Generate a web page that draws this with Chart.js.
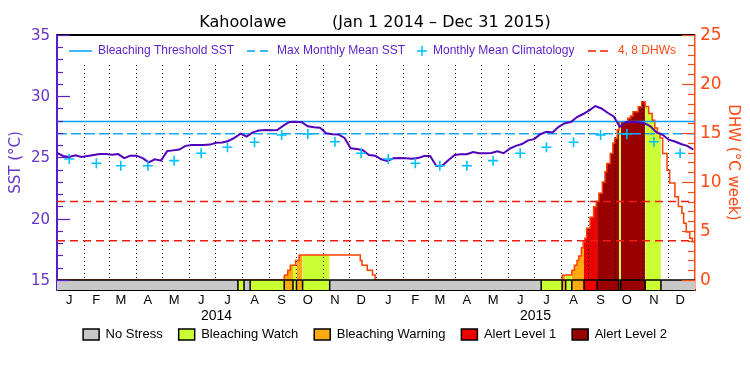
<!DOCTYPE html>
<html>
<head>
<meta charset="utf-8">
<script src="https://cdn.jsdelivr.net/npm/chart.js@4.4.0/dist/chart.umd.min.js"></script>
<style>
html, body { margin: 0; padding: 0; background: #fff; }
#wrap { width: 750px; height: 375px; }
</style>
</head>
<body>
<div id="wrap"><canvas id="chart" width="750" height="375"></canvas></div>
<script>
// Kahoolawe virtual station, Jan 1 2014 - Dec 31 2015
// x values are days since Jan 1 2014
var monthLabels = ['J', 'F', 'M', 'A', 'M', 'J', 'J', 'A', 'S', 'O', 'N', 'D'];
var yearLabels = ['2014', '2015'];

// monthly mean climatology (same for both years), plotted on the 15th
var climatology = [24.88, 24.53, 24.33, 24.33, 24.74, 25.34, 25.83, 26.24, 26.84, 26.92, 26.29, 25.34];
var maxMonthlyMean = 26.93;
var bleachingThreshold = 27.93;
var dhwLevels = [4, 8];

// SST, one reading per week from Jan 1 2014
var sstWeekly = [
    25.38, 25.12, 25.05, 25.17, 25.05, 25.12, 25.2, 25.28, 25.28, 25.22,
    25.28, 24.95, 25.15, 25.15, 24.95, 24.6, 24.85, 24.74, 25.52, 25.58,
    25.65, 25.95, 26.02, 26.02, 26.02, 26.05, 26.2, 26.22, 26.35, 26.6,
    26.95, 26.7, 27.05, 27.2, 27.25, 27.22, 27.24, 27.6, 27.9, 27.92,
    27.88, 27.55, 27.46, 27.42, 26.97, 26.9, 26.88, 26.6, 25.75, 25.7,
    25.6, 25.2, 25.15, 24.85, 24.72, 24.93, 24.95, 24.93, 24.9, 24.95,
    25.12, 25.12, 24.3, 24.35, 24.8, 25.2, 25.26, 25.26, 25.45, 25.34,
    25.34, 25.36, 25.5, 25.35, 25.72, 25.95, 26.1, 26.4, 26.5, 26.9,
    27.1, 27.05, 27.5, 27.8, 27.9, 28.3, 28.55, 28.85, 29.2, 29.0,
    28.65, 28.35, 27.5, 27.9, 27.9, 27.88, 27.8, 27.55, 27.05, 26.85,
    26.45, 26.3, 26.1, 25.95, 25.65
];

// degree heating weeks, a step holds from its day until the next one
var dhwDays = [0, 260, 264, 267, 273, 277, 347, 349, 355, 361, 364,
    578, 589, 592, 595, 597, 600, 602, 604, 606, 610,
    614, 617, 620, 624, 627, 629, 633, 636, 638, 641,
    643, 653, 656, 659, 665, 669, 673, 677, 681, 684,
    687, 690, 693, 698, 701, 707, 711, 715, 717, 720,
    724, 727];
var dhwValues = [0, 0.5, 1.0, 1.5, 2.0, 2.55, 2.0, 1.5, 1.0, 0.5, 0,
    0.5, 1.0, 1.5, 2.0, 2.45, 3.3, 3.9, 4.25, 5.27, 6.4,
    7.48, 8.0, 8.84, 10.0, 11.05, 11.9, 12.9, 13.95, 14.46, 15.3,
    16.15, 16.5, 16.73, 17.17, 17.69, 18.2, 17.7, 17.0, 16.3, 15.5,
    14.97, 14.5, 12.9, 11.2, 9.9, 8.5, 7.5, 6.8, 5.8, 4.9,
    4.25, 3.9];

// bleaching alert level, holds from its day until the next one
var stressDays = [0, 207, 214, 221, 260, 270, 274, 281, 312, 554, 578, 582, 589, 603, 618, 643, 645, 673, 691];
var stressLevels = [0, 1, 0, 1, 2, 1, 2, 1, 0, 1, 2, 1, 2, 3, 4, 1, 4, 1, 0];
var stressNames = ['No Stress', 'Bleaching Watch', 'Bleaching Warning', 'Alert Level 1', 'Alert Level 2'];
var stressColors = ['#c8c8c8', '#ccff33', '#ffaa11', '#ee0000', '#990000'];

var purple = '#5a1ec8';
var purpleText = '#6633cc';
var orange = '#ff4a14';
var sstMin = 14.18, dhwMin = -1.02;

function dayOf(y, m, d) {
    return Math.round((Date.UTC(y, m, d) - Date.UTC(2014, 0, 1)) / 864e5);
}
function stepAt(days, vals, d) {
    var v = vals[0];
    for (var i = 0; i < days.length; i++) if (days[i] <= d) v = vals[i];
    return v;
}

var monthStarts = [], monthMids = [];
yearLabels.forEach(function (y) {
    for (var m = 0; m < 12; m++) {
        monthStarts.push(dayOf(+y, m, 1));
        monthMids.push(dayOf(+y, m, 15));
    }
});
var lastDay = dayOf(2016, 0, 1);
var yearMids = yearLabels.map(function (y) { return (dayOf(+y, 0, 1) + dayOf(+y + 1, 0, 1)) / 2; });

var sstPoints = sstWeekly.map(function (v, i) { return { x: i * 7, y: v }; });
var climPoints = monthMids.map(function (d, i) { return { x: d, y: climatology[i % 12] }; });
var flat = function (v) { return [{ x: 0, y: v }, { x: lastDay, y: v }]; };

var dhwX = Array.from(new Set(dhwDays.concat(stressDays, [lastDay]))).sort(function (a, b) { return a - b; });
var dhwPoints = dhwX.map(function (d) { return { x: d, y: stepAt(dhwDays, dhwValues, d) }; });
var barPoints = stressDays.concat([lastDay]).map(function (d) { return { x: d, y: 0 }; });
var sepPoints = stressDays.slice(1).map(function (d) { return { x: d, y: dhwMin / 2 }; });

function stressAt(d) { return stepAt(stressDays, stressLevels, d); }

var DHW_INDEX = 8;

var decor = {
    id: 'decor',
    afterDatasetDraw: function (chart, args) {
        if (args.index !== DHW_INDEX) return;
        // dotted month lines
        var ctx = chart.ctx, x = chart.scales.x, ySST = chart.scales.ySST;
        var top = chart.chartArea.top + 30, bottom = ySST.getPixelForValue(15);
        ctx.save();
        ctx.strokeStyle = '#000';
        ctx.lineWidth = 1;
        ctx.setLineDash([1, 3]);
        monthStarts.forEach(function (d) {
            if (d === 0) return;
            var px = Math.round(x.getPixelForValue(d)) + 0.5;
            ctx.beginPath();
            ctx.moveTo(px, top);
            ctx.lineTo(px, bottom);
            ctx.stroke();
        });
        ctx.restore();
    },
    afterDraw: function (chart) {
        var ctx = chart.ctx, a = chart.chartArea;
        var x = chart.scales.x, ySST = chart.scales.ySST, yDHW = chart.scales.yDHW;
        ctx.save();
        // top frame
        ctx.strokeStyle = '#000';
        ctx.lineWidth = 2;
        ctx.beginPath();
        ctx.moveTo(a.left, a.top);
        ctx.lineTo(a.right, a.top);
        ctx.stroke();

        // inward tick marks
        ctx.lineWidth = 1.2;
        ctx.strokeStyle = purple;
        for (var v = 15; v <= 35; v++) {
            var py = Math.round(ySST.getPixelForValue(v)) + 0.5;
            ctx.beginPath();
            ctx.moveTo(a.left, py);
            ctx.lineTo(a.left + (v % 5 === 0 ? 13 : 6), py);
            ctx.stroke();
        }
        ctx.strokeStyle = orange;
        for (var w = 0; w <= 25; w++) {
            var qy = Math.round(yDHW.getPixelForValue(w)) + 0.5;
            ctx.beginPath();
            ctx.moveTo(a.right, qy);
            ctx.lineTo(a.right - (w % 5 === 0 ? 13 : 7), qy);
            ctx.stroke();
        }

        // year labels under the month letters
        ctx.fillStyle = '#000';
        ctx.font = '14px "Liberation Sans"';
        ctx.textAlign = 'center';
        ctx.textBaseline = 'middle';
        yearMids.forEach(function (d, i) {
            ctx.fillText(yearLabels[i], x.getPixelForValue(d), a.bottom + 26);
        });

        // legend inside the plot
        var ly = 51;
        ctx.font = '12px "Liberation Sans"';
        ctx.textAlign = 'left';
        function seg(x0, x1, color, dash) {
            ctx.strokeStyle = color;
            ctx.lineWidth = 1.5;
            ctx.setLineDash(dash);
            ctx.beginPath();
            ctx.moveTo(x0, ly);
            ctx.lineTo(x1, ly);
            ctx.stroke();
            ctx.setLineDash([]);
        }
        seg(69, 92, '#00a0ff', []);
        ctx.fillStyle = purple;
        ctx.fillText('Bleaching Threshold SST', 98, ly);
        seg(247, 268, '#00a0ff', [8, 5]);
        ctx.fillText('Max Monthly Mean SST', 277, ly);
        ctx.strokeStyle = '#00c0ff';
        ctx.lineWidth = 1.5;
        ctx.beginPath();
        ctx.moveTo(417, ly); ctx.lineTo(427, ly);
        ctx.moveTo(422, ly - 5); ctx.lineTo(422, ly + 5);
        ctx.stroke();
        ctx.fillText('Monthly Mean Climatology', 433, ly);
        seg(588, 608, '#ff1a00', [8, 4]);
        ctx.fillStyle = orange;
        ctx.fillText('4, 8 DHWs', 618, ly);
        ctx.restore();
    }
};

Chart.defaults.font.family = 'Liberation Sans';

new Chart(document.getElementById('chart').getContext('2d'), {
    type: 'line',
    data: {
        datasets: [
            {
                label: 'Monthly Mean Climatology', data: climPoints, yAxisID: 'ySST', order: 0,
                showLine: false, pointStyle: 'cross', pointRadius: 5, pointHoverRadius: 5,
                borderColor: '#00c0ff', borderWidth: 1.6
            },
            {
                label: 'SST', data: sstPoints, yAxisID: 'ySST', order: 1,
                borderColor: '#5200bb', borderWidth: 2, pointRadius: 0, tension: 0
            },
            {
                label: 'Bleaching Threshold SST', data: flat(bleachingThreshold), yAxisID: 'ySST', order: 2,
                borderColor: '#00a0ff', borderWidth: 1.5, pointRadius: 0
            },
            {
                label: 'Max Monthly Mean SST', data: flat(maxMonthlyMean), yAxisID: 'ySST', order: 3,
                borderColor: '#10a8f8', borderWidth: 1.5, borderDash: [10, 4], pointRadius: 0
            },
            {
                label: '4 DHW', data: flat(dhwLevels[0]), yAxisID: 'yDHW', order: 4,
                borderColor: '#f01a10', borderWidth: 1.5, borderDash: [8, 5], pointRadius: 0
            },
            {
                label: '8 DHW', data: flat(dhwLevels[1]), yAxisID: 'yDHW', order: 4,
                borderColor: '#f01a10', borderWidth: 1.5, borderDash: [8, 5], pointRadius: 0
            },
            {
                label: 'stress breaks', data: sepPoints, yAxisID: 'yDHW', order: 5,
                showLine: false, pointStyle: 'line', rotation: 90, pointRadius: 5, pointHoverRadius: 5,
                borderColor: '#000', borderWidth: 1.5
            },
            {
                label: 'stress', data: barPoints, yAxisID: 'yDHW', order: 6,
                stepped: 'before', borderColor: '#000', borderWidth: 1.5, pointRadius: 0,
                fill: 'start', backgroundColor: stressColors[0],
                segment: {
                    backgroundColor: function (c) { return stressColors[stressAt(c.p0.parsed.x)]; }
                }
            },
            {
                label: 'DHW', data: dhwPoints, yAxisID: 'yDHW', order: 7,
                stepped: 'before', borderColor: '#ff4000', borderWidth: 1.5, pointRadius: 0,
                fill: 'origin', backgroundColor: 'rgba(0,0,0,0)',
                segment: {
                    backgroundColor: function (c) {
                        var s = stressAt(c.p0.parsed.x);
                        return s === 0 ? 'rgba(0,0,0,0)' : stressColors[s];
                    }
                }
            }
        ]
    },
    options: {
        responsive: false,
        animation: false,
        devicePixelRatio: 1,
        layout: { padding: { left: 0, right: 0, top: 0, bottom: 24 } },
        plugins: {
            tooltip: { enabled: false },
            title: {
                display: true,
                text: 'Kahoolawe         (Jan 1 2014 \u2013 Dec 31 2015)',
                color: '#000',
                font: { family: 'DejaVu Sans', size: 16, weight: 'normal', lineHeight: 1.25 },
                padding: { top: 13, bottom: 2 }
            },
            legend: {
                position: 'bottom',
                onClick: function () {},
                labels: {
                    boxWidth: 16,
                    boxHeight: 11,
                    padding: 16,
                    color: '#000',
                    font: { family: 'Liberation Sans', size: 13 },
                    generateLabels: function () {
                        return stressNames.map(function (n, i) {
                            return { text: n, fillStyle: stressColors[i], strokeStyle: '#000', lineWidth: 1.5, hidden: false };
                        });
                    }
                }
            }
        },
        scales: {
            x: {
                type: 'linear', min: 0, max: lastDay,
                grid: { display: false, drawTicks: false },
                border: { display: true, color: '#000', width: 2 },
                ticks: {
                    autoSkip: false, maxRotation: 0, padding: 2, color: '#000',
                    font: { family: 'Liberation Sans', size: 13, lineHeight: 1.23 },
                    callback: function (v, i) { return monthLabels[i % 12]; }
                },
                afterBuildTicks: function (s) { s.ticks = monthMids.map(function (d) { return { value: d }; }); },
                afterFit: function (s) { s.height = 22; }
            },
            ySST: {
                type: 'linear', position: 'left', min: sstMin, max: 35,
                grid: { display: false, drawTicks: false },
                border: { display: true, color: purple, width: 2 },
                ticks: {
                    autoSkip: false, padding: 7, color: purpleText, labelOffset: 1,
                    font: { family: 'DejaVu Sans', size: 15 },
                    callback: function (v) { return v % 5 === 0 ? String(v) : ''; }
                },
                afterBuildTicks: function (s) {
                    var t = [];
                    for (var v = 15; v <= 35; v++) t.push({ value: v });
                    s.ticks = t;
                },
                title: {
                    display: true, text: 'SST (\u00b0C)', color: purpleText,
                    font: { family: 'DejaVu Sans', size: 15 }, padding: { top: 7, bottom: 0 }
                },
                afterFit: function (s) { s.width = 57; }
            },
            yDHW: {
                type: 'linear', position: 'right', min: dhwMin, max: 25,
                grid: { display: false, drawTicks: false },
                border: { display: true, color: orange, width: 1.5 },
                ticks: {
                    autoSkip: false, padding: 5, color: orange, labelOffset: 1,
                    font: { family: 'DejaVu Sans', size: 17 },
                    callback: function (v) { return v % 5 === 0 ? String(v) : ''; }
                },
                afterBuildTicks: function (s) {
                    var t = [];
                    for (var v = 0; v <= 25; v++) t.push({ value: v });
                    s.ticks = t;
                },
                title: {
                    display: true, text: 'DHW (\u00b0C week)', color: orange,
                    font: { family: 'DejaVu Sans', size: 15 }, padding: { top: 8, bottom: 0 }
                },
                afterFit: function (s) { s.width = 55; }
            }
        }
    },
    plugins: [decor]
});
</script>
</body>
</html>
